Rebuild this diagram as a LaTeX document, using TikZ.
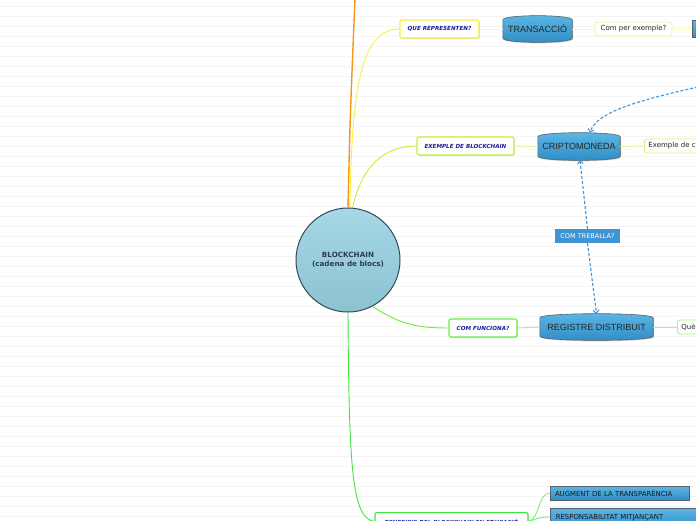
\documentclass[tikz,border=0pt]{standalone}
\usepackage{fontspec}
\setmainfont{DejaVu Sans}
\newfontfamily\libsans{Liberation Sans}
\usetikzlibrary{shadows,arrows.meta}
\pgfdeclarelayer{background}
\pgfsetlayers{background,main}
\definecolor{bgline}{HTML}{F5F5F5}
\definecolor{lblue}{HTML}{1C1C9C}
\definecolor{cyel}{HTML}{F8F040}
\definecolor{cyelL}{HTML}{FFFF99}
\definecolor{cygr}{HTML}{C4F03A}
\definecolor{cygrL}{HTML}{DDF7A0}
\definecolor{cgr}{HTML}{66F03A}
\definecolor{cgrL}{HTML}{A8F090}
\definecolor{cgr2}{HTML}{3CE83C}
\definecolor{corange}{HTML}{F7941D}
\definecolor{btop}{HTML}{5CB6E6}
\definecolor{bbot}{HTML}{2F8CC4}
\definecolor{bedge}{HTML}{55606A}
\definecolor{dash}{HTML}{3F94D4}
\definecolor{circtop}{HTML}{A6D8E6}
\definecolor{circbot}{HTML}{8CC2D0}
\definecolor{circedge}{HTML}{2E4A5A}
\definecolor{circtext}{HTML}{2C3E4C}
\newcommand\barrelshape[1]{%
  \begin{pgfonlayer}{background}
  \path[draw=bedge, line width=0.6pt, top color=btop, bottom color=bbot,
        drop shadow={shadow xshift=0.8pt, shadow yshift=-1pt, opacity=0.35}]
    ([yshift=-4pt]#1.north west) .. controls ([yshift=1.5pt]#1.north west) and ([yshift=1.5pt]#1.north east) .. ([yshift=-4pt]#1.north east)
    -- ([yshift=4pt]#1.south east) .. controls ([yshift=-1.5pt]#1.south east) and ([yshift=-1.5pt]#1.south west) .. ([yshift=4pt]#1.south west) -- cycle;
  \end{pgfonlayer}}
\begin{document}
\begin{tikzpicture}[x=1pt,y=-1pt,
  qbox/.style={draw=#1, line width=1.1pt, fill=white, rounded corners=2pt,
    inner sep=0pt, text=lblue, font=\bfseries\itshape\fontsize{5.6}{6.5}\selectfont,
    drop shadow={shadow xshift=0.8pt, shadow yshift=-0.8pt, opacity=0.3}},
  sbox/.style={draw=#1, line width=0.8pt, fill=white, rounded corners=3pt,
    inner sep=0pt, text=black!85, font=\fontsize{7}{8}\selectfont},
  barrel/.style={inner sep=0pt, text=black!85, font=\libsans\fontsize{9}{10}\selectfont},
  flat/.style={draw=bedge, line width=0.6pt, top color=btop, bottom color=bbot,
    inner sep=0pt, font=\fontsize{6.9}{8}\selectfont, text=black!90},
  conn/.style={line width=0.9pt},
  dashedarrow/.style={draw=dash, line width=1.1pt, dashed, dash pattern=on 3pt off 2pt,
    -{Straight Barb[length=3pt,width=6pt,line width=1pt]}}
]
\useasboundingbox (0,0) rectangle (696,520);
\begin{pgfonlayer}{background}
\fill[white] (0,0) rectangle (696,520);
\foreach \yy in {6,16,...,516} \draw[bgline, line width=0.8pt] (0,\yy) -- (696,\yy);
\end{pgfonlayer}

% central
\node[circle, minimum size=104pt, draw=circedge, line width=1pt, top color=circtop, bottom color=circbot,
  align=center, text=circtext, font=\bfseries\fontsize{7.2}{8.5}\selectfont] (bc) at (348,260)
  {BLOCKCHAIN\\(cadena de blocs)};

% level 1
\node[qbox=cyel, minimum width=79pt, minimum height=18pt] (que) at (439.5,29) {QUE REPRESENTEN?};
\node[qbox=cygr, minimum width=97pt, minimum height=18pt] (exb) at (465.5,146) {EXEMPLE DE BLOCKCHAIN};
\node[qbox=cgr, minimum width=68pt, minimum height=18pt] (comf) at (483,328) {COM FUNCIONA?};
\node[qbox=cgr2, minimum width=153pt, minimum height=18pt, anchor=north] (ben) at (451.5,512)
  {\raisebox{-2pt}{BENEFICIS DEL BLOCKCHAIN EN EDUCACIÓ}};
\coordinate (top) at (355,-2);

% level 2
\node[barrel, minimum width=69pt, minimum height=26pt] (tra) at (537.5,29) {TRANSACCIÓ};
\node[barrel, minimum width=82pt, minimum height=27pt] (cri) at (579,146.5) {CRIPTOMONEDA};
\node[barrel, minimum width=113pt, minimum height=26pt] (reg) at (596.5,327) {REGISTRE DISTRIBUIT};
\barrelshape{tra}
\barrelshape{cri}
\barrelshape{reg}

% level 3
\node[sbox=cyel!70, minimum width=77pt, minimum height=14pt] (cpe) at (633.5,29) {Com per exemple?};
\node[flat, minimum width=40pt, minimum height=17pt, anchor=west] (offb) at (692,28.5) {};
\node[sbox=cygr!70, minimum width=80pt, minimum height=14pt, anchor=west, text width=76pt, align=left] (exc) at (644,146) {\hspace*{2pt}Exemple de c};
\node[sbox=cgr!60, minimum width=40pt, minimum height=14pt, anchor=west, text width=36pt, align=left] (que2) at (677,327) {\hspace*{2pt}Què};
\node[flat, minimum width=139pt, minimum height=14pt, text width=135pt, align=left] (aug) at (619.5,493) {\hspace*{3pt}AUGMENT DE LA TRANSPARÈNCIA};
\node[flat, minimum width=160pt, minimum height=20pt, anchor=north west, text width=155pt, align=left] (res) at (550,508)
  {\rule{0pt}{10pt}\hspace*{3pt}RESPONSABILITAT MITJANÇANT\\~};
\node[draw=none, fill=dash, text=white, inner sep=0pt, minimum width=65pt, minimum height=14pt,
  font=\fontsize{6.5}{7.5}\selectfont] (ctr) at (587.5,236) {COM TREBALLA?};

% connectors from centre
\begin{pgfonlayer}{background}
\draw[corange, line width=1.4pt] (bc.north) .. controls (350,120) .. (top);
\draw[cyel, conn] (bc.88) .. controls (352,90) and (360,29) .. (que.west);
\draw[cygr, conn] (bc.85) .. controls (362,165) and (385,146) .. (exb.west);
\draw[cgr, conn] (bc.-62) .. controls (400,325) and (420,328) .. (comf.west);
\draw[cgr2, conn] (bc.south) .. controls (349,470) and (352,518) .. (ben.west);
% level links
\draw[cyelL, conn] (que.east) -- (tra.west);
\draw[cyelL, conn] (tra.east) -- (cpe.west);
\draw[cyelL, conn] (cpe.east) -- (offb.west);
\draw[cygrL, conn] (exb.east) -- (cri.west);
\draw[cygrL, conn] (cri.east) -- (exc.west);
\draw[cgrL, conn] (comf.east) -- (reg.west);
\draw[cgrL, conn] (reg.east) -- (que2.west);
\draw[cgr2!70, conn] (ben.east) .. controls (540,518) and (538,493) .. (aug.west);
\draw[cgr2!70, conn] (ben.east) .. controls (538,518) and (542,517) .. ([yshift=-9pt]res.north west);
\end{pgfonlayer}

% dashed relations
\coordinate (offr) at (698,87);
\draw[dashedarrow] (offr) .. controls (640,100) and (596,112) .. ([xshift=11pt]cri.north);
\draw[dashedarrow] (ctr.north) -- ([xshift=1pt]cri.south);
\draw[dashedarrow] (ctr.south) -- (reg.north);
\end{tikzpicture}
\end{document}
